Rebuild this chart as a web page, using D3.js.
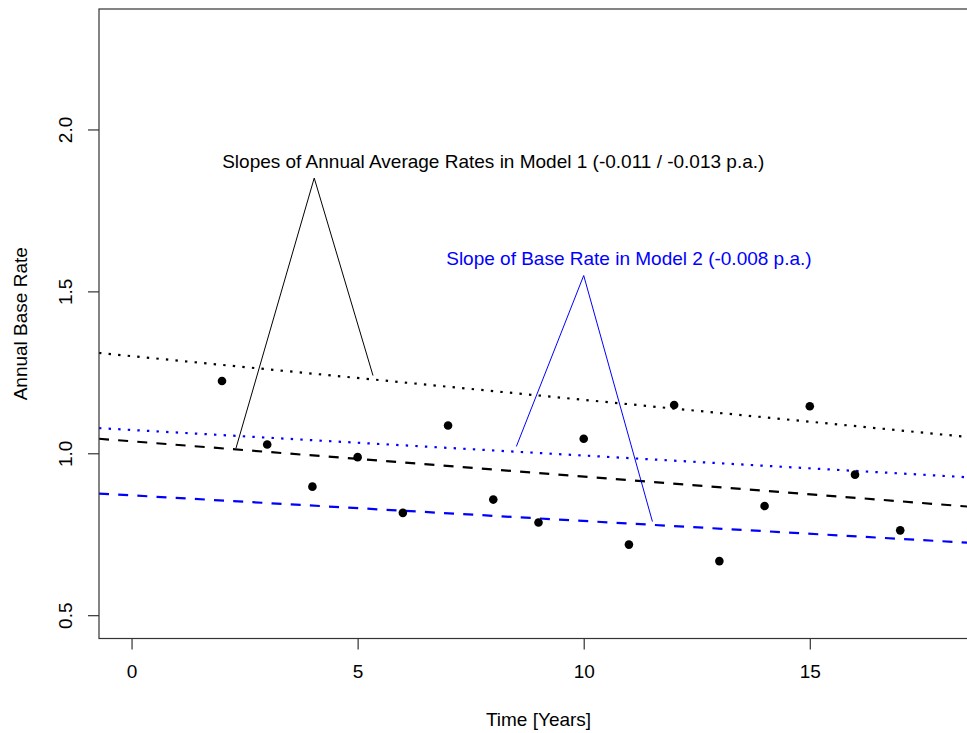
<!DOCTYPE html>
<html>
<head>
<meta charset="utf-8">
<script src="https://cdn.jsdelivr.net/npm/d3@7"></script>
<style>
  html, body { margin: 0; padding: 0; background: #fff; }
  svg { display: block; font-family: "Liberation Sans", Arial, sans-serif; }
</style>
</head>
<body>
<svg id="chart" width="967" height="733"></svg>
<script>
"use strict";
// observed annual base rates
const years = [2, 3, 4, 5, 6, 7, 8, 9, 10, 11, 12, 13, 14, 15, 16, 17];
const rates = [1.223, 1.027, 0.897, 0.988, 0.816, 1.086, 0.857, 0.786, 1.045,
  0.718, 1.149, 0.667, 0.837, 1.145, 0.934, 0.762];

// fitted trend lines: intercept + slope * t
const trendNames = ["model1Upper", "model1Lower", "model2Upper", "model2Lower"];
const trendIntercepts = [1.300, 1.037, 1.072, 0.870];
const trendSlopes = [-0.0135, -0.0109, -0.0079, -0.0079];
const trendColors = ["#000", "#000", "#0000ff", "#0000ff"];
const trendTypes = ["dotted", "dashed", "dotted", "dashed"];

// annotations
const note1Text = "Slopes of Annual Average Rates in Model 1 (-0.011 / -0.013 p.a.)";
const note1Pos = [8, 1.90];
const note1Lines = [[2.31, 1.016], [4.04, 1.85], [5.34, 1.24]];
const note2Text = "Slope of Base Rate in Model 2 (-0.008 p.a.)";
const note2Pos = [11, 1.60];
const note2Lines = [[8.51, 1.021], [10.0, 1.549], [11.52, 0.789]];

const xTicks = [0, 5, 10, 15];
const yTicks = [0.5, 1.0, 1.5, 2.0];

(function () {
  const svg = d3.select("#chart");
  const mLeft = 99, mRight = 978, mTop = 9, mBottom = 638.5;
  const fs = 19;

  const x = d3.scaleLinear().domain([-0.72, 18.72]).range([mLeft, mRight]);
  const y = d3.scaleLinear().domain([0.428, 2.372]).range([mBottom, mTop]);

  svg.append("defs").append("clipPath").attr("id", "plotclip")
    .append("rect")
    .attr("x", mLeft).attr("y", mTop)
    .attr("width", mRight - mLeft).attr("height", mBottom - mTop);

  const plot = svg.append("g").attr("clip-path", "url(#plotclip)");

  // trend lines (abline style)
  const dash = { dotted: "2.4,7.2", dashed: "10,9.2" };
  const [x0, x1] = x.domain();
  plot.selectAll(".trend")
    .data(trendNames.map((n, i) => ({ n, a: trendIntercepts[i], b: trendSlopes[i], c: trendColors[i], t: trendTypes[i] })))
    .join("line")
    .attr("class", "trend")
    .attr("x1", x(x0)).attr("x2", x(x1))
    .attr("y1", (d) => y(d.a + d.b * x0))
    .attr("y2", (d) => y(d.a + d.b * x1))
    .attr("stroke", (d) => d.c)
    .attr("stroke-width", 2.2)
    .attr("stroke-dasharray", (d) => dash[d.t]);

  // points
  plot.selectAll(".pt")
    .data(years.map((yr, i) => [yr, rates[i]]))
    .join("circle")
    .attr("class", "pt")
    .attr("cx", (d) => x(d[0]))
    .attr("cy", (d) => y(d[1]))
    .attr("r", 4.3)
    .attr("fill", "#000");

  // annotation pointers
  const line = d3.line().x((d) => x(d[0])).y((d) => y(d[1]));
  plot.append("path").attr("d", line(note1Lines))
    .attr("fill", "none").attr("stroke", "#000").attr("stroke-width", 1);
  plot.append("path").attr("d", line(note2Lines))
    .attr("fill", "none").attr("stroke", "#0000ff").attr("stroke-width", 1);

  svg.append("text")
    .attr("x", x(note1Pos[0])).attr("y", y(note1Pos[1]))
    .attr("text-anchor", "middle").attr("dominant-baseline", "central")
    .attr("font-size", fs).attr("fill", "#000")
    .text(note1Text);
  svg.append("text")
    .attr("x", x(note2Pos[0])).attr("y", y(note2Pos[1]))
    .attr("text-anchor", "middle").attr("dominant-baseline", "central")
    .attr("font-size", fs).attr("fill", "#0000ff")
    .text(note2Text);

  // box
  svg.append("rect")
    .attr("x", mLeft).attr("y", mTop)
    .attr("width", mRight - mLeft).attr("height", mBottom - mTop)
    .attr("fill", "none").attr("stroke", "#333").attr("stroke-width", 1.2);

  // axes
  const xAxis = svg.append("g")
    .attr("transform", `translate(0,${mBottom})`)
    .call(d3.axisBottom(x).tickValues(xTicks).tickSize(11).tickPadding(15.5)
      .tickFormat(d3.format("d")));
  const yAxis = svg.append("g")
    .attr("transform", `translate(${mLeft},0)`)
    .call(d3.axisLeft(y).tickValues(yTicks).tickSize(11)
      .tickFormat(d3.format(".1f")));

  [xAxis, yAxis].forEach((g) => {
    g.select(".domain").remove();
    g.selectAll(".tick line").attr("stroke", "#333").attr("stroke-width", 1.2);
    g.selectAll("text").attr("font-size", fs).attr("fill", "#000")
      .attr("font-family", "Liberation Sans, Arial, sans-serif");
  });
  yAxis.selectAll(".tick text")
    .attr("x", null).attr("dy", null)
    .attr("text-anchor", "middle")
    .attr("dominant-baseline", "central")
    .attr("transform", "translate(-34,0) rotate(-90)");

  // axis titles
  svg.append("text")
    .attr("x", (mLeft + mRight) / 2).attr("y", 726)
    .attr("text-anchor", "middle").attr("font-size", fs)
    .text("Time [Years]");
  svg.append("text")
    .attr("transform", `translate(26.5,${(mTop + mBottom) / 2}) rotate(-90)`)
    .attr("text-anchor", "middle").attr("font-size", fs)
    .text("Annual Base Rate");
})();
</script>
</body>
</html>
